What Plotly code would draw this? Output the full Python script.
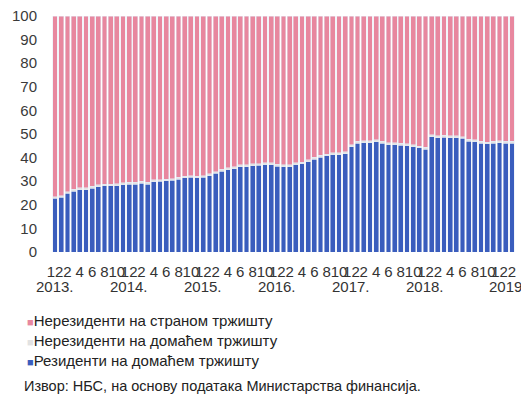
import plotly.graph_objects as go

# Months Dec 2012 .. Feb 2019 (75 monthly observations)
months = list(range(75))
residents_domestic = [
    22.7, 23.1, 24.8, 25.7, 26.4, 26.4, 27.1, 27.7, 28.0, 28.0, 28.1, 28.5,
    28.8, 28.8, 29.1, 28.8, 29.8, 29.9, 30.1, 30.3, 30.8, 31.4, 31.6, 31.4,
    31.6, 32.3, 33.3, 34.3, 34.8, 35.3, 36.2, 36.2, 36.5, 36.7, 37.0, 37.0,
    36.3, 36.2, 36.2, 37.0, 37.3, 38.3, 39.3, 40.1, 40.7, 41.3, 41.3, 41.6,
    44.7, 46.1, 46.4, 46.4, 46.7, 46.1, 45.5, 45.5, 45.2, 45.0, 44.7, 44.1,
    43.5, 48.9, 48.4, 48.7, 48.4, 48.4, 48.1, 46.9, 46.7, 46.1, 45.8, 46.1,
    46.4, 46.1, 46.1,
]
nonres_domestic = [0.8] * 75
nonres_foreign = [round(100 - a - b, 1) for a, b in zip(residents_domestic, nonres_domestic)]

tick_labels = ["12", "2", "4", "6", "8", "10"] * 6 + ["12", "2"]
tick_positions = list(range(0, 75, 2))
year_labels = ["2013.", "2014.", "2015.", "2016.", "2017.", "2018.", "2019"]
year_positions = [0, 12, 24, 36, 48, 60, 73]

series_names = [
    "Нерезиденти на страном тржишту",
    "Нерезиденти на домаћем тржишту",
    "Резиденти на домаћем тржишту",
]
c_pink = "#E8879F"
c_gray = "#E2E2E2"
c_blue = "#3A5DBD"

# the page body adds an 8px offset; compensate so the picture lands like the reference
OFF = 8
W, H = 529 - OFF, 401 - OFF
L, R, T, B = 52 - OFF, 14, 16 - OFF, 149
plot_w = W - L - R
plot_h = H - T - B


def px_x(x):
    return (x - OFF - L) / plot_w


def px_y(y):
    return (H - B - (y - OFF)) / plot_h


fig = go.Figure()
fig.add_trace(go.Bar(x=months, y=residents_domestic, marker_color=c_blue, name=series_names[2]))
fig.add_trace(go.Bar(x=months, y=nonres_domestic, marker_color=c_gray, name=series_names[1]))
fig.add_trace(go.Bar(x=months, y=nonres_foreign, marker_color=c_pink, name=series_names[0]))

font = "Liberation Sans, Arial, sans-serif"
fig.update_layout(
    barmode="stack",
    bargap=0.22,
    width=W, height=H,
    margin=dict(l=L, r=R, t=T, b=B, autoexpand=False),
    plot_bgcolor="white", paper_bgcolor="white",
    showlegend=False,
    font=dict(family=font, size=14, color="#333333"),
)
fig.update_yaxes(range=[0, 100], tickvals=list(range(0, 101, 10)), showgrid=False,
                 zeroline=False, showline=False, ticks="", automargin=False,
                 ticklabelstandoff=14, ticklabeloverflow="allow",
                 tickfont=dict(size=15, color="#3a3a3a"))
fig.update_xaxes(range=[-0.5, 74.5], tickvals=tick_positions, ticktext=tick_labels,
                 showgrid=False, zeroline=False, showline=False, ticks="",
                 automargin=False, ticklabelstandoff=9, ticklabeloverflow="allow",
                 tickangle=0, tickfont=dict(size=15, color="#333333"))

for lbl, pos in zip(year_labels, year_positions):
    fig.add_annotation(x=pos, y=px_y(286), xref="x", yref="paper", text=lbl,
                       showarrow=False, yanchor="middle",
                       font=dict(size=15, color="#333333"))

legend_colors = [c_pink, c_gray, c_blue]
for i, (nm, col) in enumerate(zip(series_names, legend_colors)):
    fig.add_annotation(x=px_x(25), y=px_y(320 + 20 * i), xref="paper", yref="paper",
                       text=f"<span style='color:{col};font-size:11px'>■</span>{nm}",
                       showarrow=False, xanchor="left", yanchor="middle",
                       font=dict(size=15, color="#222222"))

fig.add_annotation(x=px_x(22), y=px_y(386), xref="paper", yref="paper",
                   text="Извор: НБС, на основу података Министарства финансија.",
                   showarrow=False, xanchor="left", yanchor="middle",
                   font=dict(size=14.5, color="#222222"))

fig.write_html("out.html")
